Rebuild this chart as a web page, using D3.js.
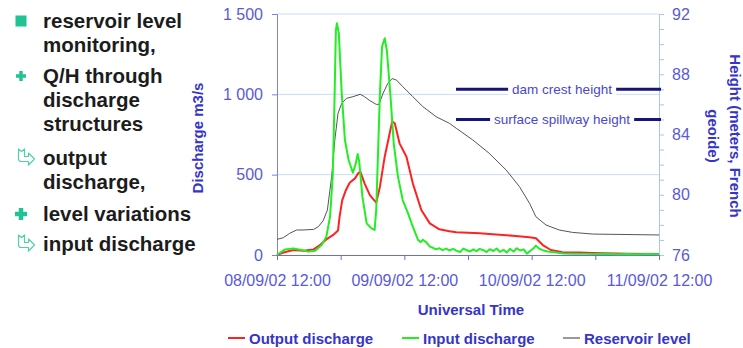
<!DOCTYPE html>
<html>
  <head>
    <script src="https://d3js.org/d3.v7.min.js"></script>
    <style>
      body { margin: 0; background: #fff; }
      svg { display: block; font-family: "Liberation Sans", Arial, sans-serif; }
    </style>
  </head>
  <body>
    <svg id="chart" width="743" height="348"></svg>
    <script>
      // hours after 08/09/02 12:00 UT, discharge in m3/s
      const outputDischarge = [
        [0, 0], [1.2, 15], [3.1, 31], [5.0, 27], [6.9, 35], [8.1, 62], [9.3, 97], [10.6, 125],
        [11.5, 152], [11.8, 239], [12.3, 342], [13.0, 405], [13.7, 450], [14.7, 477], [15.3, 508],
        [15.7, 519], [16.5, 446], [17.5, 373], [18.7, 326], [19.4, 425], [20.3, 612], [21.1, 736],
        [21.7, 830], [22.2, 820], [23.1, 695], [24.4, 612], [25.6, 446], [27.2, 280], [28.8, 197],
        [30.6, 160], [32.5, 148], [33.8, 141], [38.2, 135], [40, 131], [44.4, 120], [47.6, 110],
        [48.8, 104], [50.1, 62], [51.6, 31], [53.8, 17], [56.9, 15], [59.5, 12], [66, 8], [72, 6]
      ];
      const inputDischarge = [
        [0, 0], [1.5, 35], [3.1, 40], [4.6, 31], [5.9, 21], [7.2, 27], [8.4, 62], [9.3, 114],
        [10.0, 239], [10.5, 488], [10.8, 903], [11.1, 1400], [11.3, 1442], [11.65, 1380],
        [12.2, 1006], [12.8, 716], [13.5, 591], [14.3, 512], [14.85, 570], [15.2, 628], [15.5, 580],
        [16.1, 363], [16.9, 197], [17.8, 166], [18.4, 156], [18.7, 280], [19.0, 591], [19.4, 1006],
        [19.8, 1297], [20.3, 1349], [20.7, 1276], [21.4, 985], [22.0, 695], [22.8, 488], [23.7, 342],
        [24.7, 259], [25.6, 176], [26.6, 93], [27.1, 80], [27.5, 95], [28.2, 77], [28.8, 52],
        [29.4, 45], [30.0, 35], [30.6, 42], [31.2, 30], [31.9, 40], [32.5, 28], [33.2, 38],
        [33.8, 27], [34.5, 18], [35.1, 40], [35.7, 31], [36.4, 22], [37.0, 35], [37.6, 24],
        [38.2, 38], [38.9, 30], [39.5, 18], [40.1, 36], [40.8, 25], [41.4, 40], [42.0, 20],
        [42.7, 32], [43.3, 15], [43.9, 38], [44.6, 22], [45.2, 42], [45.8, 28], [46.5, 35],
        [47.1, 8], [47.7, 25], [48.3, 40], [48.8, 58], [49.4, 40], [50.1, 30], [51.0, 22],
        [52.6, 15], [54.0, 10], [56, 8], [58, 7], [60, 6], [62, 8], [64, 5], [66, 6], [68, 5],
        [70, 7], [72, 5]
      ];
      // reservoir level, meters (French geoide)
      const reservoirLevel = [
        [0, 77.04], [1.2, 77.15], [2.4, 77.44], [3.7, 77.66], [4.9, 77.66], [6.9, 77.7],
        [7.8, 77.88], [8.7, 78.28], [9.5, 78.99], [10.3, 81.2], [10.9, 83.64], [11.5, 85.4],
        [12.2, 86.07], [13.1, 86.4], [14.3, 86.51], [15.7, 86.67], [16.5, 86.51], [17.5, 86.25],
        [18.7, 86.0], [19.2, 86.0], [20.0, 86.74], [20.9, 87.4], [21.7, 87.71], [22.5, 87.62],
        [23.7, 87.18], [25.6, 86.51], [27.5, 85.85], [30.0, 85.18], [32.5, 84.74], [33.8, 84.41],
        [36.9, 83.64], [40.0, 82.75], [43.2, 81.64], [45.7, 80.54], [47.6, 79.43], [48.8, 78.54],
        [50.7, 77.99], [53.2, 77.66], [55.7, 77.5], [59.5, 77.39], [72, 77.33]
      ];
      const refLevels = [
        { label: "dam crest height", value: 87 },
        { label: "surface spillway height", value: 85 }
      ];
      const dischargeTicks = [0, 500, 1000, 1500];
      const heightTicks = d3.range(76, 93);
      const bulletLines = [
        { text: "reservoir level", y: 28, icon: "square" },
        { text: "monitoring,", y: 52 },
        { text: "Q/H through", y: 83, icon: "plus" },
        { text: "discharge", y: 107 },
        { text: "structures", y: 131 },
        { text: "output", y: 165, icon: "arrow" },
        { text: "discharge,", y: 189 },
        { text: "level variations", y: 221, icon: "bigplus" },
        { text: "input discharge", y: 251, icon: "arrow" }
      ];
      const legendItems = [
        { label: "Output discharge", color: "#ff2222", x: 228 },
        { label: "Input discharge", color: "#22ee22", x: 402 },
        { label: "Reservoir level", color: "#777777", x: 563 }
      ];

      const svg = d3.select("#chart");
      const plotL = 277, plotR = 659, plotT = 14, plotB = 255;
      const t0 = Date.UTC(2002, 8, 8, 12);
      const hour = 3600 * 1000;

      const x = d3.scaleUtc().domain([new Date(t0), new Date(t0 + 72 * hour)]).range([plotL, plotR]);
      const yQ = d3.scaleLinear().domain([0, 1500]).range([plotB, plotT]);
      const yH = d3.scaleLinear().domain([76, 92]).range([plotB, plotT]);
      const tx = h => x(new Date(t0 + h * hour));

      const tickBlue = "#5a5ad8";
      const titleBlue = "#3535c8";

      // gridlines
      svg.append("g")
        .selectAll("line")
        .data(dischargeTicks.slice(1))
        .join("line")
        .attr("x1", plotL).attr("x2", plotR)
        .attr("y1", d => yQ(d)).attr("y2", d => yQ(d))
        .attr("stroke", "#c9ddf5").attr("stroke-width", 1);

      // left axis
      const gl = svg.append("g")
        .attr("transform", `translate(${plotL},0)`)
        .call(d3.axisLeft(yQ).tickValues(dischargeTicks).tickSize(5).tickPadding(9)
          .tickFormat(d => d3.format(",")(d).replace(",", " ")));
      gl.select(".domain").attr("stroke", "#7f7fe6");
      gl.selectAll(".tick line").attr("stroke", "#7f7fe6");
      gl.selectAll("text").attr("fill", tickBlue).style("font-size", "16px");

      // right axis
      const gr = svg.append("g")
        .attr("transform", `translate(${plotR},0)`)
        .call(d3.axisRight(yH).tickValues(heightTicks).tickSize(5).tickPadding(8)
          .tickFormat(d => (d % 4 === 0 ? d : "")));
      gr.select(".domain").attr("stroke", "#a9c6ef");
      gr.selectAll(".tick line").attr("stroke", "#a9c6ef");
      gr.selectAll("text").attr("fill", tickBlue).style("font-size", "16px");

      // bottom axis: a tick every 12 h, a label every 24 h
      const fmt = d3.utcFormat("%d/%m/%y %H:%M");
      const gb = svg.append("g")
        .attr("transform", `translate(0,${plotB})`)
        .call(d3.axisBottom(x).ticks(d3.utcHour.every(12)).tickSize(5).tickPadding(14.5)
          .tickFormat(d => ((d - t0) % (24 * hour) === 0 ? fmt(d) : "")));
      gb.select(".domain").attr("stroke", "#6b6be0");
      gb.selectAll(".tick line").attr("stroke", "#6b6be0");
      gb.selectAll("text").attr("fill", tickBlue).style("font-size", "16px");

      // series
      const lineQ = d3.line().x(d => tx(d[0])).y(d => yQ(d[1]));
      const lineH = d3.line().x(d => tx(d[0])).y(d => yH(d[1]));

      svg.append("path").datum(reservoirLevel).attr("d", lineH)
        .attr("fill", "none").attr("stroke", "#555").attr("stroke-width", 1);
      svg.append("path").datum(outputDischarge).attr("d", lineQ)
        .attr("fill", "none").attr("stroke", "#ff2222").attr("stroke-width", 2)
        .attr("stroke-linejoin", "round");
      svg.append("path").datum(inputDischarge).attr("d", lineQ)
        .attr("fill", "none").attr("stroke", "#22ee22").attr("stroke-width", 2)
        .attr("stroke-linejoin", "round");

      // reference heights
      const refs = svg.append("g").selectAll("g").data(refLevels).join("g");
      refs.append("line")
        .attr("x1", 456).attr("x2", plotR + 2)
        .attr("y1", d => yH(d.value)).attr("y2", d => yH(d.value))
        .attr("stroke", "#14147a").attr("stroke-width", 3);
      const refText = refs.append("text")
        .attr("x", 562).attr("y", d => yH(d.value) + 5)
        .attr("text-anchor", "middle")
        .attr("fill", "#4848d0").style("font-size", "13.5px")
        .text(d => d.label);
      refText.each(function () {
        const b = this.getBBox();
        d3.select(this.parentNode).insert("rect", "text")
          .attr("x", b.x - 4).attr("y", b.y).attr("width", b.width + 8).attr("height", b.height)
          .attr("fill", "#fff");
      });

      // axis titles
      svg.append("text")
        .attr("transform", "translate(203,138) rotate(-90)")
        .attr("text-anchor", "middle").attr("fill", titleBlue)
        .style("font-size", "15px").style("font-weight", "bold")
        .text("Discharge m3/s");
      const rt = svg.append("text")
        .attr("transform", "translate(730,136) rotate(90)")
        .attr("text-anchor", "middle").attr("fill", titleBlue)
        .style("font-size", "15px").style("font-weight", "bold");
      rt.append("tspan").attr("x", 0).attr("y", 0).text("Height (meters, French");
      rt.append("tspan").attr("x", 0).attr("y", 22).text("geoide)");
      svg.append("text")
        .attr("x", 471).attr("y", 315)
        .attr("text-anchor", "middle").attr("fill", titleBlue)
        .style("font-size", "15px").style("font-weight", "bold")
        .text("Universal Time");

      // bottom legend
      const lg = svg.append("g").selectAll("g").data(legendItems).join("g")
        .attr("transform", d => `translate(${d.x},338)`);
      lg.append("line").attr("x1", 0).attr("x2", 17)
        .attr("stroke", d => d.color).attr("stroke-width", (d, i) => (i === 2 ? 1.5 : 2));
      lg.append("text").attr("x", 21).attr("y", 5.5)
        .attr("fill", titleBlue).style("font-size", "15px").style("font-weight", "bold")
        .text(d => d.label);

      // bullet list on the left
      const teal = "#1fc394";
      const bl = svg.append("g");
      bl.selectAll("text").data(bulletLines).join("text")
        .attr("x", 43).attr("y", d => d.y)
        .attr("fill", "#1c1c1c").style("font-size", "20.5px").style("font-weight", "bold")
        .text(d => d.text);
      bulletLines.filter(d => d.icon).forEach(d => {
        const cy = d.y - 7;
        if (d.icon === "square") {
          bl.append("rect").attr("x", 15.5).attr("y", cy - 5.5).attr("width", 11).attr("height", 11)
            .attr("fill", teal);
        } else if (d.icon === "plus" || d.icon === "bigplus") {
          const s = d.icon === "plus" ? 5 : 6, w = d.icon === "plus" ? 3.5 : 4.5;
          bl.append("path")
            .attr("d", `M${21 - s},${cy}H${21 + s}M21,${cy - s}V${cy + s}`)
            .attr("stroke", teal).attr("stroke-width", w);
        } else {
          // hollow bent arrow: notched stem going down, head pointing right
          bl.append("path")
            .attr("transform", `translate(18.5,${d.y - 16})`)
            .attr("d", "M0,0L3,2.5L6,0L6,7.5L10,7.5L10,4L16,10L10,16L10,12.5L3,12.5Q0,12.5 0,9.5Z")
            .attr("fill", "#fff").attr("stroke", "#4fd2a8").attr("stroke-width", 1.2)
            .attr("stroke-linejoin", "round");
        }
      });
    </script>
  </body>
</html>
